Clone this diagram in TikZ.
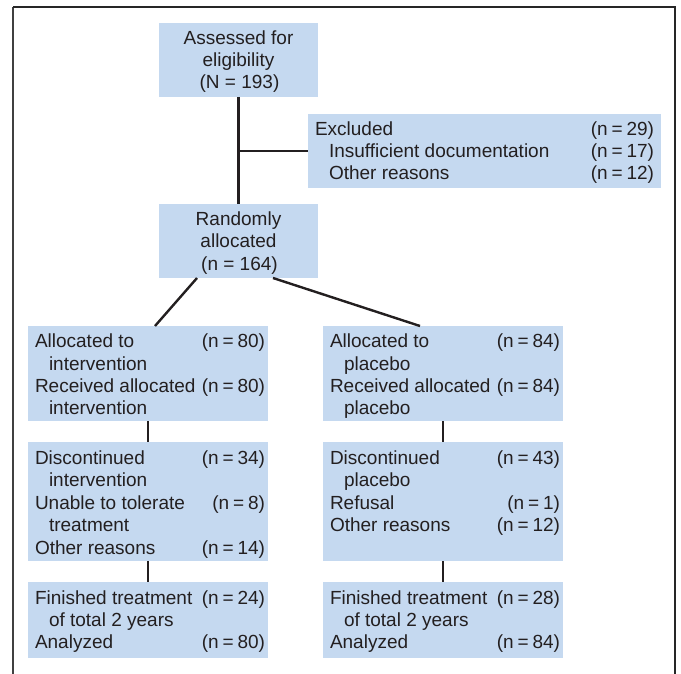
\documentclass[tikz,border=0pt]{standalone}
\usepackage{fontspec}
\setmainfont{Liberation Sans}
\definecolor{boxblue}{RGB}{197,217,240}
\definecolor{lineink}{RGB}{35,31,32}
\begin{document}
\begin{tikzpicture}[x=1pt,y=-1pt,
  box/.style={fill=boxblue, draw=none, inner sep=0pt, outer sep=0pt},
  txt/.style={inner sep=0pt, outer sep=0pt, font=\fontsize{19}{22}\selectfont, text=lineink},
  lft/.style={txt, anchor=base west},
  rgt/.style={txt, anchor=base east, execute at begin node={\spaceskip=3.9pt plus 1pt\relax}},
  ctr/.style={txt, anchor=base},
  conn/.style={draw=lineink, line width=2.4pt},
  frameline/.style={line width=1.6pt}]
\useasboundingbox (0,0) rectangle (681,674);
% frame
\draw[frameline, draw=black!75] (13,674) -- (13,7);
\draw[frameline, draw=black!85] (13,7) -- (675,7) -- (675,674);

% boxes
\node[box, minimum width=159pt, minimum height=74pt] (assess) at (238.5,60) {};
\node[box, minimum width=353pt, minimum height=74pt] (excl) at (484.5,151) {};
\node[box, minimum width=159pt, minimum height=74pt] (rand) at (238.5,241) {};
\node[box, minimum width=240pt, minimum height=95pt] (l1) at (148,373.5) {};
\node[box, minimum width=240pt, minimum height=119pt] (l2) at (148,501.5) {};
\node[box, minimum width=240pt, minimum height=76pt] (l3) at (148,620) {};
\node[box, minimum width=240pt, minimum height=95pt] (r1) at (443,373.5) {};
\node[box, minimum width=240pt, minimum height=119pt] (r2) at (443,501.5) {};
\node[box, minimum width=240pt, minimum height=76pt] (r3) at (443,620) {};

% connectors
\draw[conn] (assess.south) -- (rand.north);
\coordinate (jx) at (excl.west -| assess.south);
\draw[conn] (jx) -- (excl.west);
\draw[conn] ([xshift=38pt]rand.south west) -- ([xshift=127pt]l1.north west);
\draw[conn] ([xshift=-45pt]rand.south east) -- ([xshift=97pt]r1.north west);
\draw[conn] (l1.south) -- (l2.north);
\draw[conn] (l2.south) -- (l3.north);
\draw[conn] (r1.south) -- (r2.north);
\draw[conn] (r2.south) -- (r3.north);

% assessed
\node[ctr] (a1) at (238.5,45) {Assessed for};
\node[ctr] (a2) at (238.5,67) {eligibility};
\node[ctr] (a3) at (239.5,89) {(N = 193)};

% excluded
\node[lft] (e1) at (315,136) {Excluded};
\node[lft] (e2) at (329,158) {Insufficient documentation};
\node[lft] (e3) at (329,180) {Other reasons};
\node[rgt] (e1n) at (654,136) {(n = 29)};
\node[rgt] (e2n) at (654,158) {(n = 17)};
\node[rgt] (e3n) at (654,180) {(n = 12)};

% randomly
\node[ctr] (ra1) at (238.5,226) {Randomly};
\node[ctr] (ra2) at (238.5,248) {allocated};
\node[ctr] (ra3) at (239.5,270) {(n = 164)};

% left column
\node[lft] (l1a) at (35,348) {Allocated to};
\node[lft] (l1b) at (49,370.3) {intervention};
\node[lft] (l1c) at (35,392.6) {Received allocated};
\node[lft] (l1d) at (49,414.9) {intervention};
\node[rgt] (l1an) at (265,348) {(n = 80)};
\node[rgt] (l1cn) at (265,392.6) {(n = 80)};

\node[lft] (l2a) at (35,464) {Discontinued};
\node[lft] (l2b) at (49,486.5) {intervention};
\node[lft] (l2c) at (35,509) {Unable to tolerate};
\node[lft] (l2d) at (49,531.5) {treatment};
\node[lft] (l2e) at (35,554) {Other reasons};
\node[rgt] (l2an) at (265,464) {(n = 34)};
\node[rgt] (l2cn) at (265,509) {(n = 8)};
\node[rgt] (l2en) at (265,554) {(n = 14)};

\node[lft] (l3a) at (35,604) {Finished treatment};
\node[lft] (l3b) at (49,626.3) {of total 2 years};
\node[lft] (l3c) at (35,648.6) {Analyzed};
\node[rgt] (l3an) at (265,604) {(n = 24)};
\node[rgt] (l3cn) at (265,648.6) {(n = 80)};

% right column
\node[lft] (r1a) at (330,348) {Allocated to};
\node[lft] (r1b) at (344,370.3) {placebo};
\node[lft] (r1c) at (330,392.6) {Received allocated};
\node[lft] (r1d) at (344,414.9) {placebo};
\node[rgt] (r1an) at (560,348) {(n = 84)};
\node[rgt] (r1cn) at (560,392.6) {(n = 84)};

\node[lft] (r2a) at (330,464) {Discontinued};
\node[lft] (r2b) at (344,486.5) {placebo};
\node[lft] (r2c) at (330,509) {Refusal};
\node[lft] (r2d) at (330,531.5) {Other reasons};
\node[rgt] (r2an) at (560,464) {(n = 43)};
\node[rgt] (r2cn) at (560,509) {(n = 1)};
\node[rgt] (r2dn) at (560,531.5) {(n = 12)};

\node[lft] (r3a) at (330,604) {Finished treatment};
\node[lft] (r3b) at (344,626.3) {of total 2 years};
\node[lft] (r3c) at (330,648.6) {Analyzed};
\node[rgt] (r3an) at (560,604) {(n = 28)};
\node[rgt] (r3cn) at (560,648.6) {(n = 84)};
\end{tikzpicture}
\end{document}
